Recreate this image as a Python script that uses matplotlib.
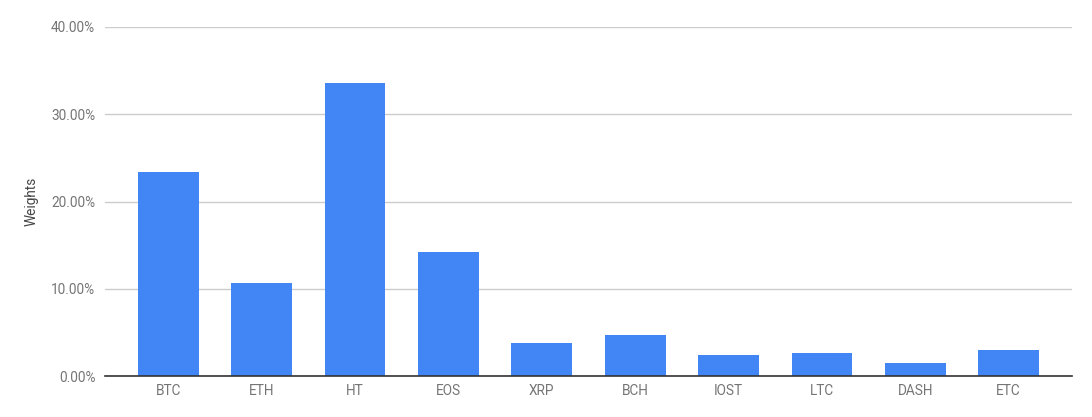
import matplotlib

matplotlib.use("Agg")
import matplotlib.pyplot as plt
from matplotlib.ticker import FuncFormatter

coins = ["BTC", "ETH", "HT", "EOS", "XRP", "BCH", "IOST", "LTC", "DASH", "ETC"]
weights = [0.2338, 0.1066, 0.3358, 0.1421, 0.0378, 0.0470, 0.0241, 0.0264, 0.0149, 0.0298]

plt.rcParams["font.family"] = ["Roboto", "DejaVu Sans"]

fig = plt.figure(figsize=(10.92, 4.17), dpi=100)
ax = fig.add_axes([105 / 1092, 41 / 417, 967 / 1092, 349 / 417])

x = list(range(len(coins)))
ax.bar(x, weights, width=0.65, color="#4285f4", zorder=2)

ax.set_xlim(-0.68, len(coins) - 1 + 0.68)
ax.set_ylim(0, 0.4)
ax.set_yticks([0, 0.1, 0.2, 0.3, 0.4])
ax.yaxis.set_major_formatter(FuncFormatter(lambda v, _: f"{v * 100:.2f}%"))
ax.set_xticks(x)
ax.set_xticklabels(coins)

ax.grid(axis="y", color="#cccccc", linewidth=1, zorder=0)
for side in ["top", "right", "left"]:
    ax.spines[side].set_visible(False)
ax.spines["bottom"].set_color("#333333")
ax.spines["bottom"].set_linewidth(1.2)
ax.spines["bottom"].set_zorder(3)

ax.tick_params(axis="both", length=0, labelsize=9.8, colors="#757575")
ax.tick_params(axis="x", pad=6)
ax.tick_params(axis="y", pad=7)
ax.set_ylabel("Weights", fontsize=9.8, color="#444444", labelpad=9)

fig.savefig("out.png", dpi=100)
